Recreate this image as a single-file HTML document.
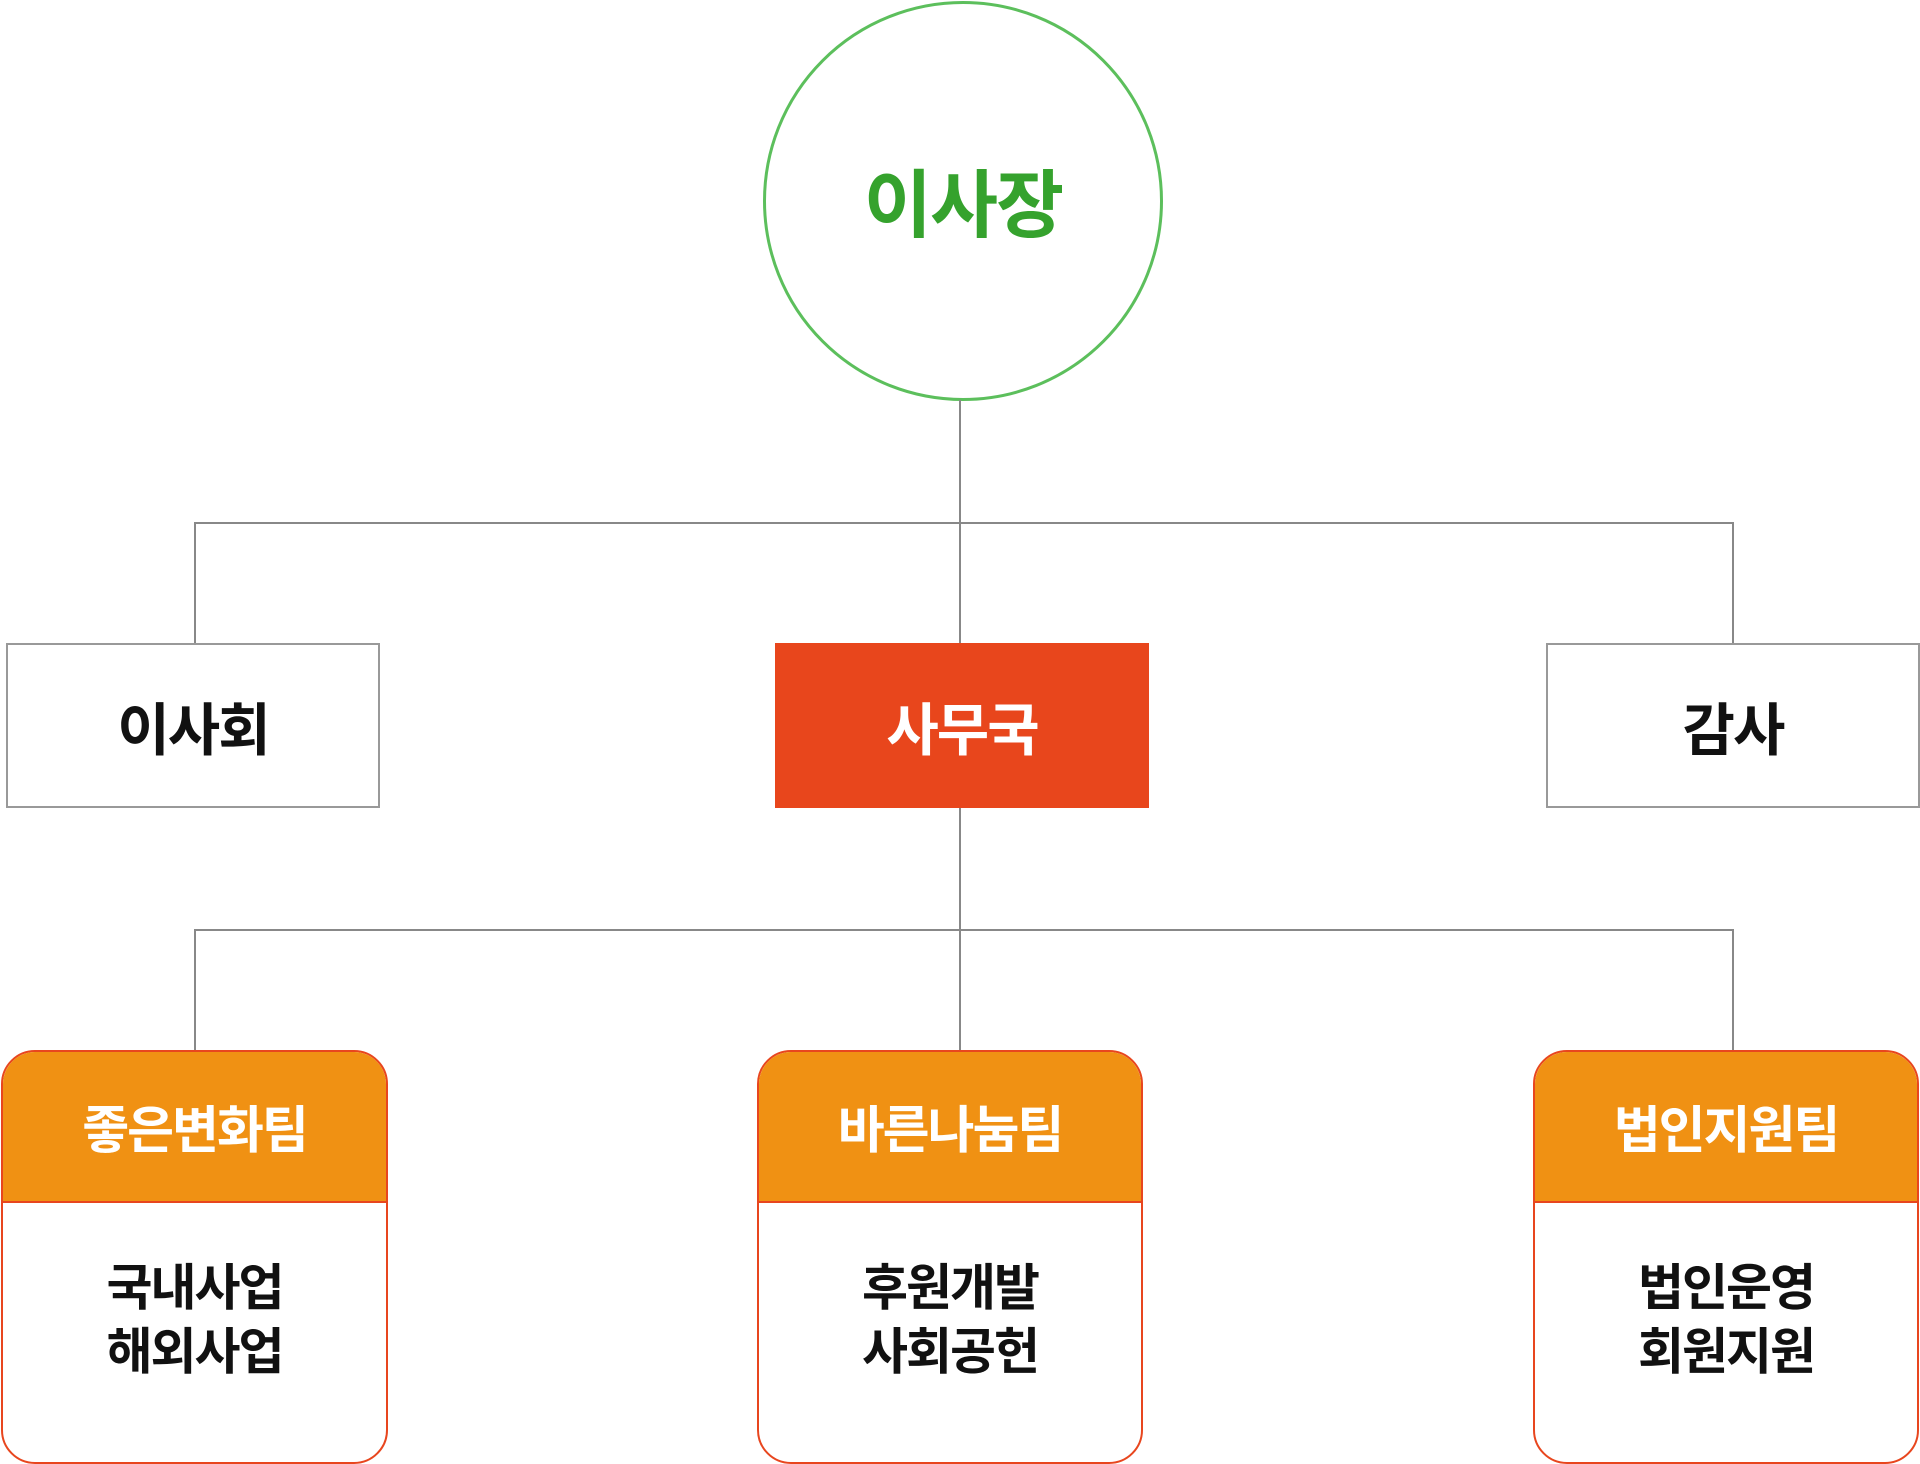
<!DOCTYPE html>
<html><head><meta charset="utf-8"><style>
html,body{margin:0;padding:0;background:#fff;width:1920px;height:1464px;overflow:hidden;position:relative;font-family:"Liberation Sans","Noto Sans CJK KR",sans-serif;}
.abs{position:absolute;box-sizing:border-box;}
.l{position:absolute;background:#888;}
.box{display:flex;align-items:center;justify-content:center;font-weight:bold;font-size:57px;letter-spacing:-2px;}
.team{border:2px solid #e8461e;border-radius:34px;overflow:hidden;background:#fff;}
.hd{position:absolute;left:0;right:0;top:0;height:151px;background:#f09113;border-bottom:2px solid #e8461e;color:#fff;font-weight:bold;font-size:51px;letter-spacing:-2px;display:flex;align-items:center;justify-content:center;padding-bottom:2px;box-sizing:border-box;}
.bd{position:absolute;left:0;right:0;top:204px;text-align:center;font-weight:bold;font-size:50px;line-height:64px;letter-spacing:-2px;color:#111;}
</style></head><body>
<div class="abs" style="left:763px;top:1px;width:400px;height:400px;border:3px solid #5cbf5c;border-radius:50%;display:flex;align-items:center;justify-content:center;color:#35a22d;font-weight:bold;font-size:74px;letter-spacing:-2px;padding-bottom:3px;">이사장</div>
<div class="l" style="left:959px;top:400px;width:2px;height:243px"></div>
<div class="l" style="left:195px;top:522px;width:1539px;height:2px"></div>
<div class="l" style="left:194px;top:522px;width:2px;height:121px"></div>
<div class="l" style="left:1732px;top:522px;width:2px;height:121px"></div>
<div class="abs box" style="left:6px;top:643px;width:374px;height:165px;border:2px solid #999;color:#111;">이사회</div>
<div class="abs box" style="left:775px;top:643px;width:374px;height:165px;background:#e8461c;color:#fff;">사무국</div>
<div class="abs box" style="left:1546px;top:643px;width:374px;height:165px;border:2px solid #999;color:#111;">감사</div>
<div class="l" style="left:959px;top:808px;width:2px;height:243px"></div>
<div class="l" style="left:195px;top:929px;width:1539px;height:2px"></div>
<div class="l" style="left:194px;top:929px;width:2px;height:122px"></div>
<div class="l" style="left:1732px;top:929px;width:2px;height:122px"></div>
<div class="abs team" style="left:1px;top:1050px;width:387px;height:414px"><div class="hd">좋은변화팀</div><div class="bd">국내사업<br>해외사업</div></div>
<div class="abs team" style="left:757px;top:1050px;width:386px;height:414px"><div class="hd">바른나눔팀</div><div class="bd">후원개발<br>사회공헌</div></div>
<div class="abs team" style="left:1533px;top:1050px;width:386px;height:414px"><div class="hd">법인지원팀</div><div class="bd">법인운영<br>회원지원</div></div>
</body></html>
